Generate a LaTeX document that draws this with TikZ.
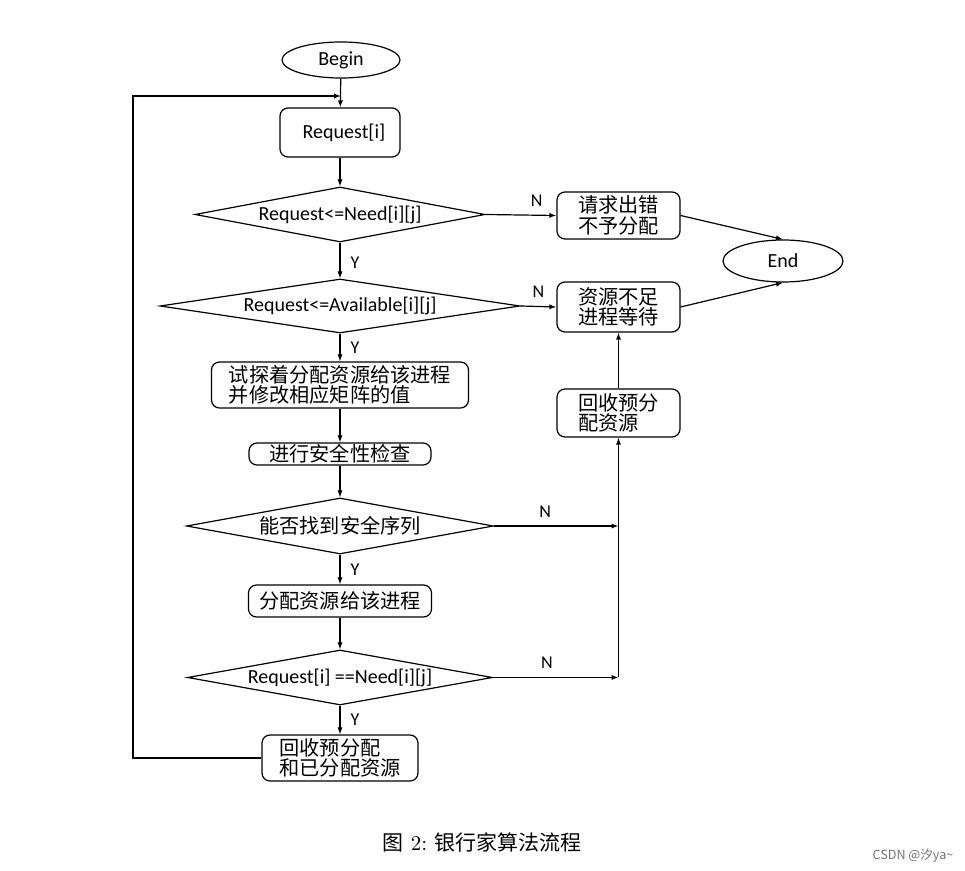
\documentclass[tikz,border=0pt]{standalone}
\usepackage{fontspec}
\usetikzlibrary{shapes.geometric,arrows.meta}
\newfontfamily\cjk{Noto Sans CJK SC}
\newfontfamily\calfont{Carlito}
\begin{document}
\begin{tikzpicture}[x=0.5pt,y=-0.5pt,
  every node/.style={inner sep=0pt},
  lat/.style={font=\calfont\fontsize{10}{12}\selectfont},
  zh/.style={font=\cjk\fontsize{10.1}{10.2}\selectfont, align=left},
  box/.style={draw, line width=0.6pt, rounded corners=4pt},
  term/.style={draw, ellipse, line width=0.6pt},
  dia/.style={draw, diamond, line width=0.6pt},
  arr/.style={line width=0.6pt, -{Latex[length=3.5pt,width=2.6pt]}},
  lbl/.style={font=\calfont\fontsize{9}{10}\selectfont},
]
\path[use as bounding box] (0,0) rectangle (965,871);

% main column
\node[term, lat, minimum width=59pt, minimum height=18pt] (begin) at (341,60) {Begin};
\node[box, lat, minimum width=60pt, minimum height=24.5pt] (req) at (340,132.5) {\hspace{4pt}Request[i]};
\node[dia, minimum width=145pt, minimum height=27.5pt] (d1) at (340,214.5) {};
\node[lat] (d1t) at (d1) {Request<=Need[i][j]};
\node[dia, minimum width=180pt, minimum height=27pt] (d2) at (340,306) {};
\node[lat] (d2t) at (d2) {Request<=Available[i][j]};
\node[box, zh, minimum width=128.5pt, minimum height=23pt] (try) at (340,385) {试探着分配资源给该进程\\并修改相应矩阵的值};
\node[box, zh, minimum width=91pt, minimum height=11pt] (chk) at (340,454) {进行安全性检查};
\node[dia, minimum width=153.5pt, minimum height=28pt] (d3) at (340,526) {};
\node[zh] (d3t) at (d3) {能否找到安全序列};
\node[box, zh, minimum width=91.5pt, minimum height=16pt] (alloc) at (340,601) {分配资源给该进程};
\node[dia, minimum width=152.5pt, minimum height=27.5pt] (d4) at (340,677.5) {};
\node[lat] (d4t) at (d4) {Request[i] ==Need[i][j]};
\node[box, zh, minimum width=78pt, minimum height=23pt] (back) at (340,758) {回收预分配\\和已分配资源};

% right column
\node[box, zh, minimum width=61.5pt, minimum height=23.5pt] (e1) at (618.5,215.5) {请求出错\\不予分配};
\node[box, zh, minimum width=61.5pt, minimum height=25pt] (e2) at (618.5,307) {资源不足\\进程等待};
\node[box, zh, minimum width=61.5pt, minimum height=24pt] (rec) at (618.5,413) {回收预分\\配资源\hphantom{分}};
\node[term, lat, minimum width=60pt, minimum height=21pt] (endn) at (783,261) {End};

\coordinate (j) at (341,96);
\coordinate (lb) at (133,96);

% connectors
\draw[arr] (begin) -- (req);
\draw[arr] (req) -- (d1);
\draw[arr] (d1) -- node[lbl, right=5pt, pos=0.57] (y1) {Y} (d2);
\draw[arr] (d2) -- node[lbl, right=5pt, pos=0.5] (y2) {Y} (try);
\draw[arr] (try) -- (chk);
\draw[arr] (chk) -- (d3);
\draw[arr] (d3) -- node[lbl, right=5pt, pos=0.5] (y3) {Y} (alloc);
\draw[arr] (alloc) -- (d4);
\draw[arr] (d4) -- node[lbl, right=5pt, pos=0.5] (y4) {Y} (back);

\draw[arr] (d1.east) -- node[lbl, above=4pt, pos=0.72] (n1) {N} (e1.west);
\draw[arr] (d2.east) -- node[lbl, above=4pt, pos=0.5] (n2) {N} (e2.west);
\draw[arr] (e1.east) -- (endn.north);
\draw[arr] (e2.east) -- (endn.south);

\draw[arr] (d3.east) -- node[lbl, above=4pt, pos=0.41] (n3) {N} (d3.east -| rec.south);
\draw[arr] (d4.east) -- node[lbl, above=4pt, pos=0.43] (n4) {N} (d4.east -| rec.south);
\draw[arr] (d4.east -| rec.south) -- (rec.south);
\draw[arr] (rec) -- (e2);

\draw[arr] (back.west) -| (lb) -- (j);

% caption and watermark
\node[font=\fontsize{10.5}{12}\selectfont] (cap) at (482,842) {{\cjk 图}\ 2:\ {\cjk 银行家算法流程}};
\node[font=\cjk\fontsize{6.3}{7}\selectfont, text=black!55] (wm) at (913,856) {CSDN @汐ya\textasciitilde};
\end{tikzpicture}
\end{document}
